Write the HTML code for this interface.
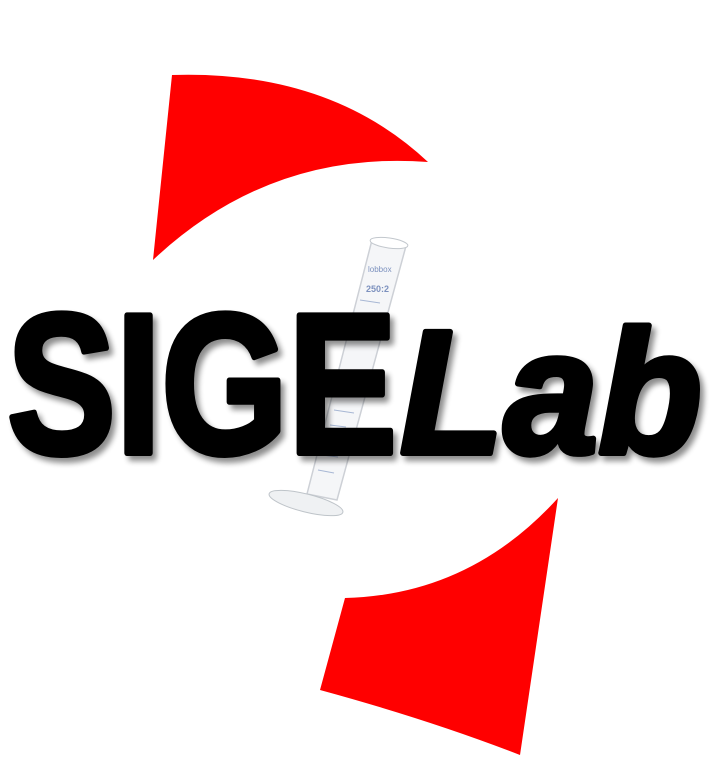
<!DOCTYPE html>
<html><head><meta charset="utf-8"><style>
html,body{margin:0;padding:0;background:#fff;width:712px;height:772px;overflow:hidden}
</style></head><body>
<svg width="712" height="772" viewBox="0 0 712 772" xmlns="http://www.w3.org/2000/svg">
<defs>
<filter id="sh" x="-10%" y="-10%" width="120%" height="130%"><feGaussianBlur in="SourceAlpha" stdDeviation="3"/><feOffset dx="4" dy="5"/><feComponentTransfer><feFuncA type="linear" slope="0.45"/></feComponentTransfer><feMerge><feMergeNode/><feMergeNode in="SourceGraphic"/></feMerge></filter>
</defs>
<path d="M172,75 Q330,70 428,162 Q270,150 153,260 Z" fill="#ff0000"/>
<path d="M558,498 Q470,595 345,598 L320,690 Q430,720 520,755 Z" fill="#ff0000"/>
<g opacity="0.9">
<path d="M372,240 L406,246 L337,500 L307,494 Z" fill="#f4f6f8" stroke="#c8ccd2" stroke-width="1.5"/>
<ellipse cx="389" cy="243" rx="19" ry="5" fill="#fff" stroke="#bcc2c8" transform="rotate(8 389 243)"/>
<ellipse cx="306" cy="503" rx="38" ry="9" fill="#eef0f2" stroke="#b8bec4" transform="rotate(14 306 503)"/>
<g stroke="#9fb0d0" stroke-width="1">
<line x1="360" y1="300" x2="380" y2="303"/><line x1="356" y1="315" x2="372" y2="317"/><line x1="352" y1="330" x2="368" y2="332"/><line x1="334" y1="410" x2="354" y2="413"/><line x1="330" y1="425" x2="346" y2="427"/><line x1="326" y1="440" x2="344" y2="443"/><line x1="322" y1="455" x2="338" y2="457"/><line x1="318" y1="470" x2="334" y2="473"/>
</g>
<text x="368" y="272" font-family="Liberation Sans, sans-serif" font-size="8" fill="#6f86b8">lobbox</text>
<text x="366" y="292" font-family="Liberation Sans, sans-serif" font-size="9" fill="#6f86b8" font-weight="bold">250:2</text>
</g>
<g filter="url(#sh)" stroke="#000" stroke-width="6" stroke-linejoin="round">
<text x="7" y="453" font-family="Liberation Sans, sans-serif" font-weight="bold" font-size="200" textLength="390" lengthAdjust="spacingAndGlyphs" fill="#000">SIGE</text>
<text x="400" y="453" font-family="Liberation Sans, sans-serif" font-weight="bold" font-style="italic" font-size="176" textLength="302" lengthAdjust="spacingAndGlyphs" fill="#000">Lab</text>
</g>
</svg>
</body></html>
